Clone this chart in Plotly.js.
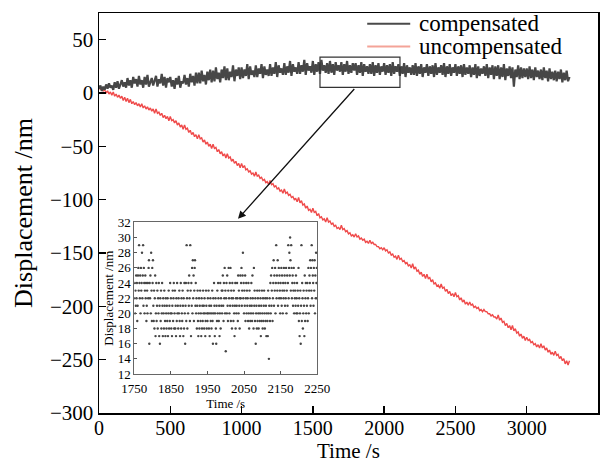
<!DOCTYPE html>
<html>
<head>
<meta charset="utf-8">
<script src="https://cdn.plot.ly/plotly-3.0.1.min.js"></script>
<style>html,body{margin:0;padding:0;background:#fff;}#chart{width:614px;height:464px;}</style>
</head>
<body>
<div id="chart"></div>
<script>
// ---- main series (sampled every 10 s from t = 0) ----
var mainStart = 0, mainStep = 10;
var compensated = [
  4,7,2,6,3,8,4,9,5,7,
  3,10,5,11,4,9,12,6,10,5,
  14,7,12,5,15,9,13,6,16,8,
  12,5,15,8,17,6,11,14,7,13,
  16,6,13,9,18,7,15,5,14,10,
  15,6,12,4,14,8,16,5,11,9,
  17,8,14,6,18,10,16,7,19,9,
  19,9,21,11,17,8,20,12,22,10,
  21,11,24,13,19,10,22,14,25,12,
  23,12,20,15,26,11,22,16,24,13,
  24,14,22,16,27,13,25,17,21,15,
  26,15,23,18,27,14,25,17,22,16,
  27,16,24,18,29,15,26,19,23,17,
  28,17,25,19,30,16,27,20,24,18,
  29,18,26,20,31,17,28,21,25,19,
  30,17,27,20,29,18,31,21,26,19,
  28,18,30,19,27,17,29,21,26,20,
  29,17,27,20,30,18,26,19,28,21,
  28,17,26,19,29,16,27,20,25,18,
  27,18,29,16,26,19,28,17,25,20,
  28,17,26,19,27,16,29,18,25,20,
  27,16,25,18,28,15,26,19,24,17,
  26,17,28,16,25,18,27,15,24,19,
  27,16,25,18,26,15,28,17,24,19,
  26,17,28,15,25,18,27,16,24,19,
  27,16,25,18,26,15,27,17,24,18,
  26,15,24,17,27,14,25,16,23,18,
  25,16,27,14,24,17,26,13,25,16,
  26,13,24,15,27,12,23,16,25,14,
  24,6,22,15,26,13,24,14,23,15,
  23,13,25,14,22,12,24,15,21,13,
  22,12,24,14,21,11,23,13,20,12,
  21,11,20,13,22,10,19,12,21,11,
  15
];
var uncompensated = [
  6,3,5,2,3,0,2,-1,1,-2,
  1,-3,-1,-4,-2,-5,-3,-7,-4,-8,
  -5,-9,-6,-10,-8,-11,-9,-12,-10,-13,
  -10,-14,-12,-15,-13,-16,-14,-17,-15,-19,
  -15,-19,-18,-21,-19,-23,-21,-24,-22,-26,
  -22,-26,-25,-28,-26,-30,-28,-32,-30,-34,
  -30,-34,-33,-37,-35,-39,-37,-41,-39,-43,
  -39,-43,-42,-46,-44,-48,-46,-50,-48,-52,
  -48,-52,-51,-55,-53,-57,-55,-59,-57,-61,
  -57,-61,-60,-64,-62,-66,-64,-68,-66,-70,
  -66,-70,-68,-72,-71,-74,-73,-76,-75,-78,
  -74,-78,-77,-80,-79,-82,-81,-84,-83,-86,
  -82,-86,-85,-88,-87,-90,-89,-92,-91,-94,
  -90,-94,-93,-96,-95,-98,-97,-100,-99,-102,
  -98,-103,-101,-105,-104,-108,-106,-110,-109,-112,
  -108,-112,-111,-115,-113,-117,-116,-119,-118,-121,
  -117,-121,-120,-123,-122,-125,-124,-127,-126,-128,
  -124,-128,-127,-130,-129,-132,-131,-134,-133,-135,
  -132,-135,-134,-137,-136,-138,-137,-140,-139,-141,
  -138,-141,-140,-142,-142,-144,-144,-146,-145,-147,
  -145,-148,-147,-150,-149,-152,-151,-154,-153,-156,
  -152,-156,-155,-158,-157,-160,-159,-162,-161,-164,
  -160,-165,-163,-167,-166,-170,-168,-172,-170,-174,
  -170,-174,-173,-177,-175,-179,-178,-181,-180,-183,
  -179,-183,-182,-186,-184,-188,-186,-190,-188,-191,
  -187,-191,-190,-194,-192,-196,-194,-198,-196,-199,
  -196,-199,-198,-201,-200,-202,-201,-204,-203,-205,
  -203,-205,-205,-207,-207,-209,-208,-210,-210,-212,
  -208,-213,-211,-215,-214,-218,-216,-220,-218,-222,
  -218,-223,-221,-225,-224,-228,-226,-230,-228,-232,
  -229,-232,-231,-234,-233,-236,-235,-238,-236,-239,
  -235,-239,-237,-241,-239,-243,-241,-245,-243,-246,
  -242,-246,-245,-249,-247,-251,-249,-254,-251,-255,
  -251
];
// ---- inset (zoomed compensated data, 1 s sampling from 1750 s) ----
var insetStart = 1750, insetStep = 1;
var insetValues = [
  22,24,20,23,21,25,22,24,19,21,
  25,26,23,29,24,22,25,20,26,23,
  24,28,22,25,29,21,26,24,20,23,
  25,22,24,19,21,23,20,24,22,26,
  27,16,24,22,25,20,28,23,19,26,
  24,27,21,19,23,18,22,25,17,20,
  24,19,21,23,18,22,20,24,17,21,
  16,22,19,23,18,20,24,21,17,22,
  20,18,23,21,19,17,22,20,18,21,
  19,22,17,20,23,18,21,19,24,20,
  22,18,20,17,21,23,19,22,24,18,
  20,23,18,21,17,22,19,24,20,21,
  18,22,20,23,19,17,21,24,18,22,
  20,19,23,21,17,22,18,24,20,16,
  21,24,19,29,22,18,23,20,24,21,
  25,22,19,29,23,17,24,21,26,20,
  27,22,25,19,23,26,27,21,24,20,
  22,18,21,23,19,17,20,22,18,21,
  23,19,20,17,22,18,21,19,23,20,
  21,18,22,20,17,19,23,21,18,20,
  19,22,20,23,18,21,17,20,22,19,
  21,18,20,23,19,16,22,20,24,21,
  17,20,22,18,16,21,19,23,20,24,
  22,19,21,17,20,24,18,22,21,23,
  20,23,25,21,19,24,22,26,20,23,
  15,22,24,20,25,21,19,23,26,22,
  20,24,21,26,19,23,22,18,24,21,
  22,19,23,20,17,21,24,18,22,20,
  21,24,22,19,25,20,23,21,18,22,
  25,22,24,26,21,23,25,28,22,24,
  20,23,21,25,19,22,24,20,23,21,
  22,19,24,20,18,23,21,19,22,20,
  24,21,19,25,22,20,18,26,21,23,
  19,22,16,20,21,18,23,19,22,20,
  18,21,23,19,20,22,17,21,19,23,
  20,18,22,19,21,23,20,18,22,19,
  21,17,20,22,19,17,23,20,14,21,
  22,19,24,20,25,21,23,26,19,22,
  24,27,21,25,23,26,20,24,29,22,
  25,23,27,21,24,26,22,25,23,20,
  24,22,26,21,25,23,20,24,22,26,
  23,25,21,24,22,26,20,23,25,21,
  24,29,22,26,28,25,30,27,23,29,
  26,22,24,25,21,23,26,20,24,22,
  23,21,25,20,22,24,20,23,21,26,
  19,22,17,20,23,16,21,29,19,24,
  22,18,20,23,21,17,25,19,22,24,
  20,23,21,24,19,22,26,20,23,25,
  24,27,21,26,23,29,22,27,25,24,
  21,26,23,27,20,25,22,28,24,26,
  22
];
var seriesNames = ['compensated', 'uncompensated'];
var seriesColors = ['#474747', '#ef4a4a'];
var legendLineColors = ['#4a4a4a', '#f4a398'];
// zoom box and arrow (data units of main axes)
var boxT = [1550, 2111], boxV = [5.2, 33.7];
var arrowFrom = [1800, 5.2], arrowTo = [975, -118];

var xTicks = [0,500,1000,1500,2000,2500,3000,3500];
var yTicks = [-300,-250,-200,-150,-100,-50,0,50];
var insetXTicks = [1750,1850,1950,2050,2150,2250];
var insetYTicks = [12,14,16,18,20,22,24,26,28,30,32];

function times(start, step, n){ var a=[]; for(var i=0;i<n;i++) a.push(start+i*step); return a; }

var F = 'Liberation Serif, Times New Roman, serif';
var traces = [
  {x: times(mainStart, mainStep, uncompensated.length), y: uncompensated, mode:'lines',
   line:{color:seriesColors[1], width:1.4}, name:seriesNames[1], showlegend:false, hoverinfo:'skip'},
  {x: times(mainStart, mainStep, compensated.length), y: compensated, mode:'lines',
   line:{color:seriesColors[0], width:2.2}, name:seriesNames[0], showlegend:false, hoverinfo:'skip'},
  {x: times(insetStart, insetStep, insetValues.length), y: insetValues, mode:'markers',
   xaxis:'x2', yaxis:'y2', marker:{color:'#444', size:2.4}, showlegend:false, hoverinfo:'skip'}
];

// legend drawn as paper-positioned samples + labels
var legY = [0.9733, 0.9165];
var legShapes = legY.map(function(y,i){
  return {type:'line', xref:'paper', yref:'paper', x0:0.5375, x1:0.6237, y0:y, y1:y,
          line:{color:legendLineColors[i], width:2}};
});
var legAnn = legY.map(function(y,i){
  return {xref:'paper', yref:'paper', x:0.637, y:y, xanchor:'left', yanchor:'middle',
          text:seriesNames[i], showarrow:false, font:{size:23, family:F, color:'#000'}};
});
var xTitleAnn = {xref:'paper', yref:'paper', x:0.5, y:-0.1265, xanchor:'center', yanchor:'bottom',
  text:'Time /s', showarrow:false, borderpad:0, font:{size:21, family:F, color:'#000'}};

var layout = {
  width:614, height:464,
  margin:{l:99, r:16.4, t:13.3, b:50.7},
  paper_bgcolor:'#fff', plot_bgcolor:'#fff',
  font:{family:F, color:'#000', size:20},
  showlegend:false,
  xaxis:{range:[0,3500], tickvals:xTicks, ticks:'inside', ticklen:7, tickwidth:1.3, tickcolor:'#000',
    showline:true, linecolor:'#000', linewidth:1.5, mirror:true, showgrid:false, zeroline:false,
    tickfont:{size:20, family:F}, ticklabelstandoff:-4},
  yaxis:{range:[-300,75], tickvals:yTicks, ticktext:yTicks.map(function(v){return v<0?'\u2212'+(-v):String(v);}),
    ticks:'inside', ticklen:7, tickwidth:1.3, tickcolor:'#000',
    showline:true, linecolor:'#000', linewidth:1.5, mirror:true, showgrid:false, zeroline:false,
    tickfont:{size:21, family:F}, title:{text:'Displacement /nm', font:{size:26, family:F}, standoff:10}},
  xaxis2:{domain:[0.0708,0.4372], anchor:'y2', range:[1750,2250], tickvals:insetXTicks,
    ticks:'inside', ticklen:3, tickcolor:'#555', showline:true, linecolor:'#666', linewidth:1, mirror:true,
    showgrid:false, zeroline:false, tickfont:{size:13, family:F}, ticklabelstandoff:2,
    title:{text:'Time /s', font:{size:13, family:F}, standoff:0}},
  yaxis2:{domain:[0.0975,0.4765], anchor:'x2', range:[12,32], tickvals:insetYTicks,
    ticks:'inside', ticklen:3, tickcolor:'#555', showline:true, linecolor:'#666', linewidth:1, mirror:true,
    showgrid:false, zeroline:false, tickfont:{size:13, family:F},
    title:{text:'Displacement /nm', font:{size:13, family:F}, standoff:1}},
  shapes:[{type:'rect', xref:'x', yref:'y', x0:boxT[0], x1:boxT[1], y0:boxV[0], y1:boxV[1],
    line:{color:'#333', width:1.2}, fillcolor:'rgba(0,0,0,0)'}].concat(legShapes),
  annotations:[{xref:'x', yref:'y', axref:'x', ayref:'y', x:arrowTo[0], y:arrowTo[1],
    ax:arrowFrom[0], ay:arrowFrom[1], text:'', showarrow:true, arrowhead:2, arrowsize:1.2,
    arrowwidth:1.3, arrowcolor:'#111'}].concat(legAnn, [xTitleAnn])
};
Plotly.newPlot('chart', traces, layout, {staticPlot:true, displayModeBar:false});
</script>
</body>
</html>
